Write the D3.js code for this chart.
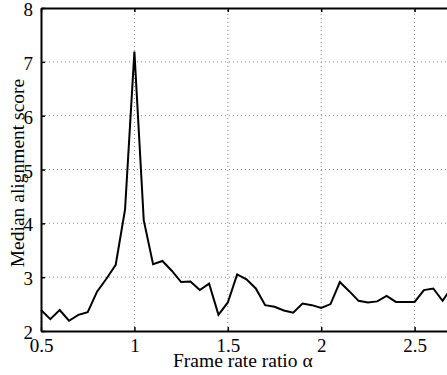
<!DOCTYPE html>
<html>
<head>
<meta charset="utf-8">
<script src="https://cdn.jsdelivr.net/npm/d3@7"></script>
<style>
  html, body { margin: 0; padding: 0; background: #fff; overflow: hidden; }
</style>
</head>
<body>
<div id="chart"></div>
<script>
// frame rate ratio (x) and median alignment score (y)
const ratios = [0.5, 0.55, 0.6, 0.65, 0.7, 0.75, 0.8, 0.85, 0.9, 0.95,
    1.0, 1.05, 1.1, 1.15, 1.2, 1.25, 1.3, 1.35, 1.4, 1.45,
    1.5, 1.55, 1.6, 1.65, 1.7, 1.75, 1.8, 1.85, 1.9, 1.95,
    2.0, 2.05, 2.1, 2.15, 2.2, 2.25, 2.3, 2.35, 2.4, 2.45,
    2.5, 2.55, 2.6, 2.65, 2.7];
const scores = [2.39, 2.22, 2.39, 2.19, 2.30, 2.35, 2.73, 2.97, 3.23, 4.26,
    7.19, 4.06, 3.24, 3.30, 3.12, 2.91, 2.92, 2.76, 2.88, 2.30,
    2.53, 3.05, 2.96, 2.79, 2.48, 2.45, 2.38, 2.34, 2.51, 2.48,
    2.43, 2.50, 2.91, 2.74, 2.56, 2.53, 2.55, 2.65, 2.54, 2.54,
    2.54, 2.76, 2.79, 2.56, 2.82];
const xTicks = [0.5, 1, 1.5, 2, 2.5, 3];
const yTicks = [2, 3, 4, 5, 6, 7, 8];

const width = 447;
const height = 375;
const serif = "Liberation Serif, Times New Roman, serif";

const x = d3.scaleLinear().domain([0.5, 3]).range([41, 508]);
const y = d3.scaleLinear().domain([2, 8]).range([331, 8]);

const svg = d3.select("#chart").append("svg")
    .attr("width", width)
    .attr("height", height);

// grid lines (dotted)
svg.append("g").selectAll("line")
    .data(xTicks.slice(1))
    .enter().append("line")
    .attr("x1", d => x(d)).attr("x2", d => x(d))
    .attr("y1", y(2)).attr("y2", y(8))
    .attr("stroke", "#888")
    .attr("stroke-width", 1)
    .attr("stroke-dasharray", "1,3");

svg.append("g").selectAll("line")
    .data(yTicks.slice(1, -1))
    .enter().append("line")
    .attr("x1", x(0.5)).attr("x2", x(3))
    .attr("y1", d => y(d)).attr("y2", d => y(d))
    .attr("stroke", "#888")
    .attr("stroke-width", 1)
    .attr("stroke-dasharray", "1,3");

// axes with inward ticks
const axisBottomG = svg.append("g")
    .attr("transform", `translate(0,${y(2)})`)
    .call(d3.axisBottom(x).tickValues(xTicks).tickSizeInner(-4).tickSizeOuter(0)
        .tickPadding(9).tickFormat(d => String(d)));
const axisTopG = svg.append("g")
    .attr("transform", `translate(0,${y(8)})`)
    .call(d3.axisTop(x).tickValues(xTicks).tickSizeInner(-4).tickSizeOuter(0).tickFormat(""));
const axisLeftG = svg.append("g")
    .attr("transform", `translate(${x(0.5)},0)`)
    .call(d3.axisLeft(y).tickValues(yTicks).tickSizeInner(-4).tickSizeOuter(0)
        .tickPadding(8).tickFormat(d => String(d)));

[axisBottomG, axisTopG, axisLeftG].forEach(g => {
    g.select(".domain").attr("stroke", "#000").attr("stroke-width", 2);
    g.selectAll(".tick line").attr("stroke", "#000").attr("stroke-width", 1.5);
    g.selectAll(".tick text")
        .attr("fill", "#000")
        .style("font-family", serif)
        .style("font-size", "19px");
});
axisBottomG.selectAll(".tick text").attr("dy", "0.65em");
axisLeftG.selectAll(".tick text").attr("dy", "0.4em");

// data line
const line = d3.line()
    .x((d, i) => x(ratios[i]))
    .y(d => y(d));

svg.append("path")
    .datum(scores)
    .attr("fill", "none")
    .attr("stroke", "#000")
    .attr("stroke-width", 2)
    .attr("stroke-linejoin", "miter")
    .attr("d", line);

// axis labels
svg.append("text")
    .attr("x", x(1.5) + 15)
    .attr("y", 367)
    .attr("text-anchor", "middle")
    .style("font-family", serif)
    .style("font-size", "19.5px")
    .text("Frame rate ratio α");

svg.append("text")
    .attr("transform", `translate(24,173) rotate(-90)`)
    .attr("text-anchor", "middle")
    .style("font-family", serif)
    .style("font-size", "19.5px")
    .text("Median alignment score");
</script>
</body>
</html>
